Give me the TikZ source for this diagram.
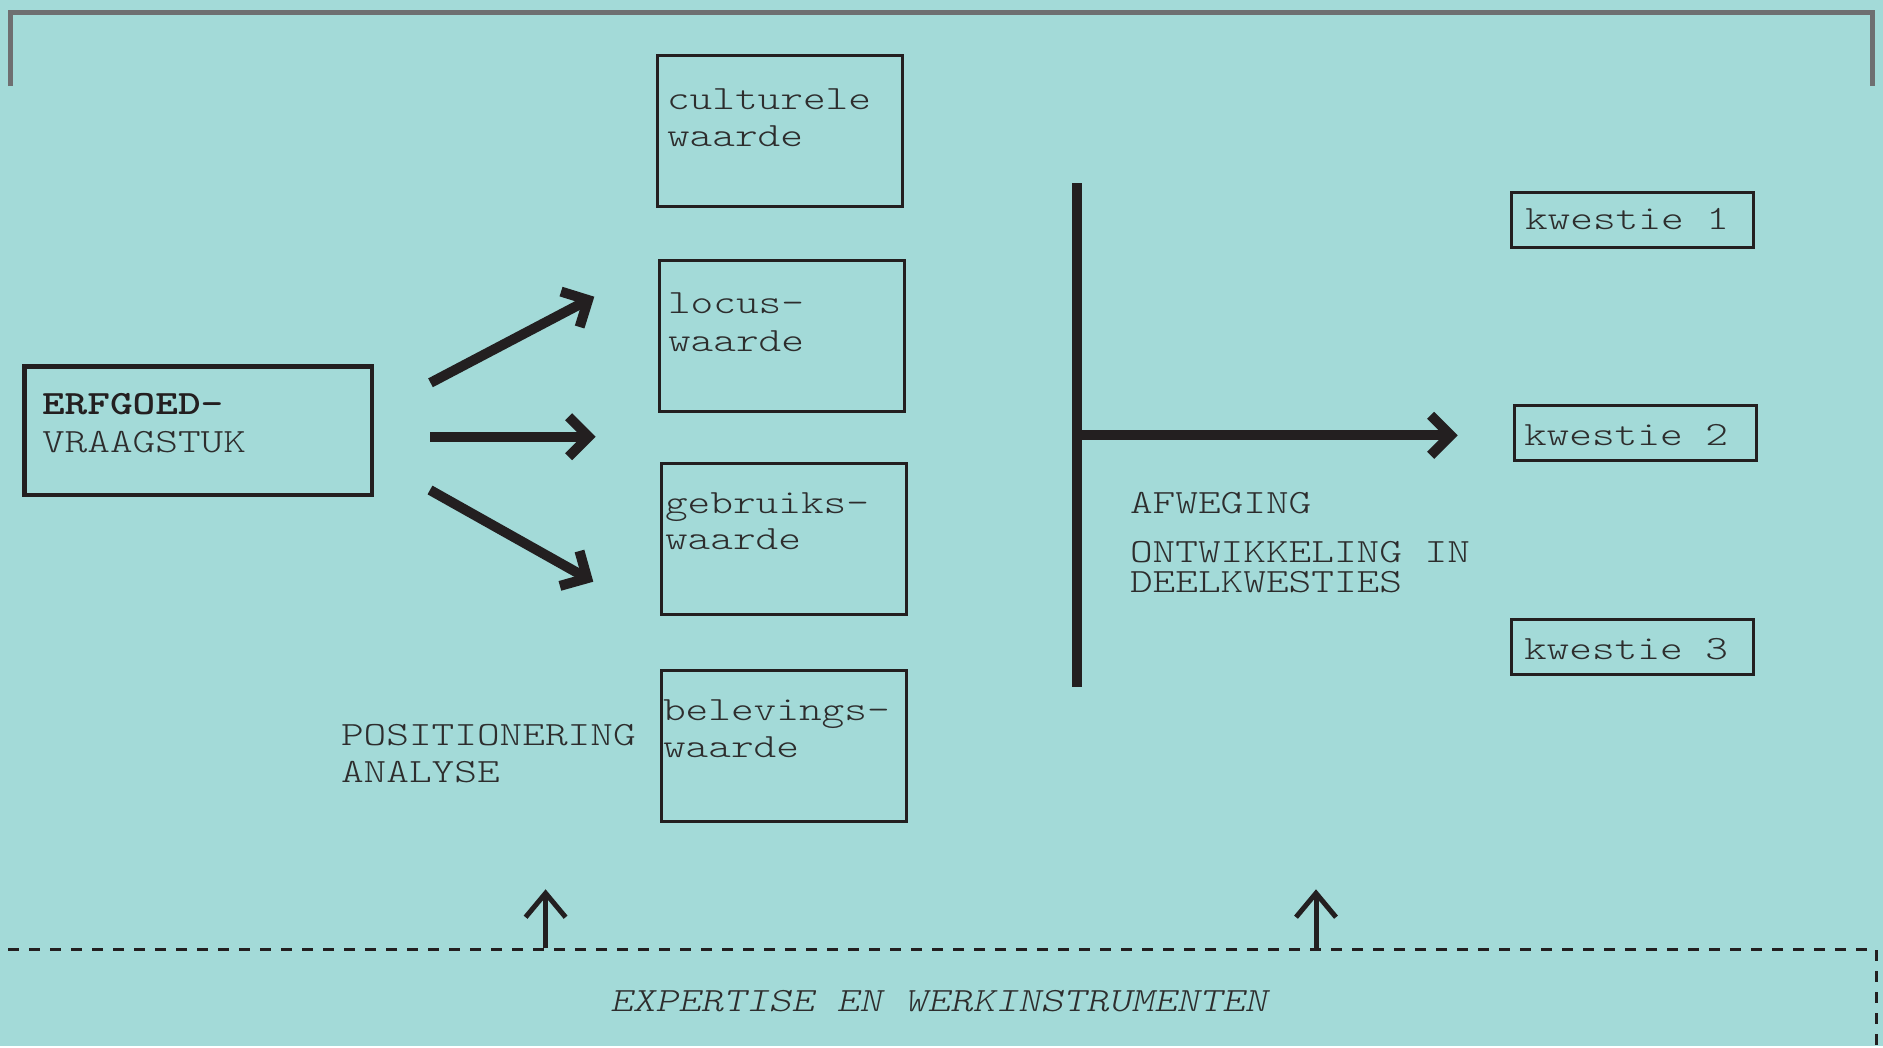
\documentclass[tikz,border=0pt]{standalone}
\usepackage{fontspec}
\setmonofont{lmmonolt10-regular.otf}[FakeStretch=1.27,
  BoldFont=lmmonolt10-bold.otf, ItalicFont=lmmonolt10-oblique.otf]
\usetikzlibrary{arrows.meta}
\definecolor{bg}{RGB}{163,218,216}
\definecolor{framegray}{RGB}{110,111,113}
\definecolor{ink}{RGB}{35,31,32}
\definecolor{txt}{RGB}{45,45,45}

\begin{document}
\begin{tikzpicture}[x=1pt,y=-1pt,
  lbl/.style={anchor=base west, inner sep=0pt, outer sep=0pt, text=txt,
    text depth=0pt, font=\ttfamily\fontsize{34}{34}\selectfont},
  valbox/.style={draw=ink, line width=3pt, minimum width=245pt,
    minimum height=151pt, inner sep=0pt},
  issuebox/.style={draw=ink, line width=3pt, minimum width=242pt,
    minimum height=55pt, inner sep=0pt},
  bigarrow/.style={draw=ink, line width=10pt, line cap=butt,
    -{Straight Barb[sharp,length=20pt,width=40pt]}},
  uparrow/.style={draw=ink, line width=5pt, line cap=butt,
    -{Straight Barb[sharp,length=24pt,width=40pt]}},
]
% canvas
\fill[bg] (0,0) rectangle (1883,1046);

% top bracket
\draw[framegray, line width=5pt] (10.7,86) -- (10.7,12.8) -- (1872.7,12.8) -- (1872.7,86);

% starting question
\node[draw=ink, line width=4.5pt, minimum width=347.5pt, minimum height=128.5pt,
  inner sep=0pt] (erf) at (198.25,430.75) {};
\node[lbl, text=ink] (erfA) at (42,414) {\bfseries ERFGOED-};
\node[lbl] (erfB) at (42,452) {VRAAGSTUK};

% fan of arrows
\coordinate (a1s) at (430.5,382.8); \coordinate (a1e) at (594.3,296.7);
\coordinate (a2s) at (430,436.7);   \coordinate (a2e) at (595.7,436.7);
\coordinate (a3s) at (430,490);     \coordinate (a3e) at (593.3,581.7);
\draw[bigarrow] (a1s) -- (a1e);
\draw[bigarrow] (a2s) -- (a2e);
\draw[bigarrow] (a3s) -- (a3e);

% value boxes
\node[valbox] (cult)  at (779.75,130.75) {};
\node[valbox] (locus) at (782.25,335.5) {};
\node[valbox] (gebr)  at (783.5,538.5) {};
\node[valbox] (bel)   at (783.75,745.75) {};

\node[lbl] (cultA)  at (667,109) {culturele};
\node[lbl] (cultB)  at (667,146) {waarde};
\node[lbl] (locusA) at (668,313) {locus-};
\node[lbl] (locusB) at (668,351) {waarde};
\node[lbl] (gebrA)  at (665,513) {gebruiks-};
\node[lbl] (gebrB)  at (665,549) {waarde};
\node[lbl] (belA)   at (663,720) {belevings-};
\node[lbl] (belB)   at (663,757) {waarde};

\node[lbl] (posA) at (341,745) {POSITIONERING};
\node[lbl] (posB) at (341,782) {ANALYSE};

% weighing bar and split
\coordinate (barTop) at (1077.3,183.3);
\coordinate (barBot) at (1077.3,687.3);
\coordinate (hub)    at (1077.3,435.3);
\coordinate (htip)   at (1457.7,435.3);
\draw[ink, line width=10pt, line cap=butt] (barTop) -- (barBot);
\draw[bigarrow] (hub) -- (htip);

\node[lbl] (afw)  at (1130,513) {AFWEGING};
\node[lbl] (ontA) at (1130,562) {ONTWIKKELING IN};
\node[lbl] (ontB) at (1130,592) {DEELKWESTIES};

% sub-issues
\node[issuebox] (k1) at (1632.5,219.5) {};
\node[issuebox] (k2) at (1635,432.9) {};
\node[issuebox] (k3) at (1632.5,646.5) {};
\node[lbl] (k1t) at (1525,229.3) {kwestie 1};
\node[lbl] (k2t) at (1524,445.7) {kwestie 2};
\node[lbl] (k3t) at (1524,659.3) {kwestie 3};

% expertise strip
\draw[ink, line width=3pt, dash pattern=on 11pt off 10pt]
  (8,949) -- (1876,949) -- (1876,1046);
\coordinate (u1s) at (545.6,947.5); \coordinate (u1e) at (545.6,889.3);
\coordinate (u2s) at (1316,947.5);  \coordinate (u2e) at (1316,889.3);
\draw[uparrow] (u1s) -- (u1e);
\draw[uparrow] (u2s) -- (u2e);
\node[lbl] (exp) at (610,1011.7) {\itshape EXPERTISE EN WERKINSTRUMENTEN};
\end{tikzpicture}
\end{document}
